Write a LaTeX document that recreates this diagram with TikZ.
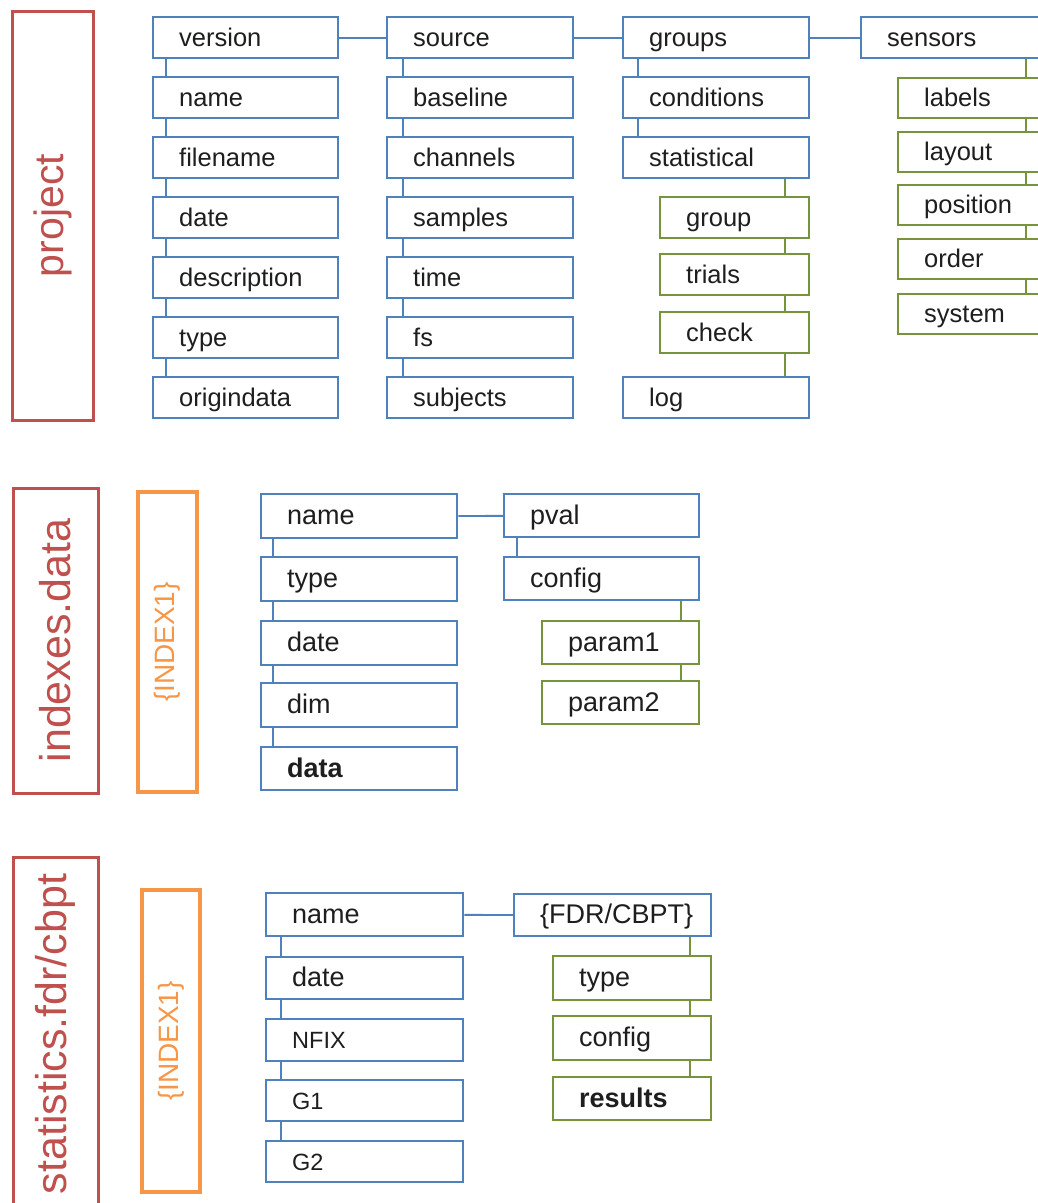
\documentclass[tikz,border=0pt]{standalone}
\usepackage{fontspec}
\setmainfont{Liberation Sans}
\usetikzlibrary{positioning}
\definecolor{boxblue}{RGB}{79,129,189}
\definecolor{boxgreen}{RGB}{119,147,60}
\definecolor{secred}{RGB}{192,80,77}
\definecolor{idxorange}{RGB}{247,150,70}
\definecolor{fieldtext}{RGB}{30,30,30}
\begin{document}
\begin{tikzpicture}[x=1pt,y=-1pt,
  topf/.style={font=\fontsize{25.5}{28}\selectfont,text height=21pt,text depth=4pt},
  subf/.style={font=\fontsize{27}{30}\selectfont,text height=22pt,text depth=4.5pt},
  smallf/.style={font=\fontsize{23.5}{26}\selectfont,text height=20.5pt,text depth=3.5pt},
  fieldbox/.style={draw=boxblue,line width=2.4pt,anchor=north west,inner xsep=26pt,inner ysep=0pt,
    align=left,text=fieldtext,minimum height=41pt,topf},
  leafbox/.style={fieldbox,draw=boxgreen},
  link/.style={draw=boxblue,line width=1.9pt},
  leaflink/.style={draw=boxgreen,line width=1.9pt},
  secbox/.style={draw=secred,line width=3pt,text=secred,rotate=90,inner sep=0pt},
  idxbox/.style={draw=idxorange,line width=3.4pt,text=idxorange,rotate=90,inner sep=0pt,font=\fontsize{28}{30}\selectfont}]
\clip (0,0) rectangle (1038,1203);
\fill[white] (0,0) rectangle (1038,1203);

% project
\node[secbox,minimum width=409pt,minimum height=81pt,font=\fontsize{41}{45}\selectfont] (project) at (53,215.5) {project};
\foreach \nm/\txt [count=\i from 0] in {version/version,pname/name,filename/filename,pdate/date,description/description,ptype/type,origindata/origindata}
  \node[fieldbox,text width=133pt] (\nm) at (152,16+60*\i) {\txt};
\foreach \nm/\txt [count=\i from 0] in {source/source,baseline/baseline,channels/channels,samples/samples,time/time,fs/fs,subjects/subjects}
  \node[fieldbox,text width=134pt] (\nm) at (386,16+60*\i) {\txt};
\foreach \nm/\txt [count=\i from 0] in {groups/groups,conditions/conditions,statistical/statistical}
  \node[fieldbox,text width=134pt] (\nm) at (622,16+60*\i) {\txt};
\node[leafbox,text width=97pt] (group) at (659,196) {group};
\node[leafbox,text width=97pt] (trials) at (659,253) {trials};
\node[leafbox,text width=97pt] (check) at (659,311) {check};
\node[fieldbox,text width=134pt] (log) at (622,376) {log};
\node[fieldbox,text width=134pt] (sensors) at (860,16) {sensors};
\foreach \nm/\yy in {labels/77,layout/131,position/184,order/238,system/293}
  \node[leafbox,text width=97pt,minimum height=40pt] (\nm) at (897,\yy) {\nm};

\foreach \a/\b in {version/pname,pname/filename,filename/pdate,pdate/description,description/ptype,ptype/origindata}
  \draw[link] ([xshift=14pt]\a.south west) -- ([xshift=14pt]\b.north west);
\foreach \a/\b in {source/baseline,baseline/channels,channels/samples,samples/time,time/fs,fs/subjects}
  \draw[link] ([xshift=17pt]\a.south west) -- ([xshift=17pt]\b.north west);
\foreach \a/\b in {groups/conditions,conditions/statistical}
  \draw[link] ([xshift=16pt]\a.south west) -- ([xshift=16pt]\b.north west);
\foreach \a/\b in {statistical/group,group/trials,trials/check,check/log}
  \draw[leaflink] ([xshift=-25pt]\a.south east) -- ([xshift=-25pt]\b.north east);
\foreach \a/\b in {sensors/labels,labels/layout,layout/position,position/order,order/system}
  \draw[leaflink] ([xshift=-22pt]\a.south east) -- ([xshift=-22pt]\b.north east);
\draw[link] (version) -- (source);
\draw[link] (source) -- (groups);
\draw[link] (groups) -- (sensors);

% indexes.data
\node[secbox,minimum width=305pt,minimum height=85pt,font=\fontsize{43}{47}\selectfont] (indexes) at (55.5,640.5) {indexes.data};
\node[idxbox,minimum width=300pt,minimum height=59pt] (idxone) at (167.5,642) {\{INDEX1\}};
\foreach \nm/\txt/\yy in {iname/name/493,itype/type/556,idate/date/620,idim/dim/682}
  \node[fieldbox,text width=144pt,minimum height=44pt,subf] (\nm) at (260,\yy) {\txt};
\node[fieldbox,text width=144pt,minimum height=43pt,subf] (idata) at (260,746) {\bfseries data};
\node[fieldbox,text width=143pt,minimum height=43pt,subf] (pval) at (503,493) {pval};
\node[fieldbox,text width=143pt,minimum height=43pt,subf] (iconfig) at (503,556) {config};
\node[leafbox,text width=105pt,minimum height=43pt,subf] (param1) at (541,620) {param1};
\node[leafbox,text width=105pt,minimum height=43pt,subf] (param2) at (541,680) {param2};
\foreach \a/\b in {iname/itype,itype/idate,idate/idim,idim/idata}
  \draw[link] ([xshift=13pt]\a.south west) -- ([xshift=13pt]\b.north west);
\draw[link] ([xshift=14pt]pval.south west) -- ([xshift=14pt]iconfig.north west);
\foreach \a/\b in {iconfig/param1,param1/param2}
  \draw[leaflink] ([xshift=-19pt]\a.south east) -- ([xshift=-19pt]\b.north east);
\draw[link] (iname) -- (pval);

% statistics.fdr/cbpt
\node[secbox,minimum width=354pt,minimum height=85pt,font=\fontsize{43}{47}\selectfont] (statistics) at (55.5,1034) {statistics.fdr/cbpt};
\node[idxbox,minimum width=302pt,minimum height=58pt] (idxtwo) at (171,1041) {\{INDEX1\}};
\node[fieldbox,text width=145pt,minimum height=43pt,subf] (sname) at (265,892) {name};
\node[fieldbox,text width=145pt,minimum height=42pt,subf] (sdate) at (265,956) {date};
\node[fieldbox,text width=145pt,minimum height=42pt,smallf] (nfix) at (265,1018) {NFIX};
\node[fieldbox,text width=145pt,minimum height=41pt,smallf] (g1) at (265,1079) {G1};
\node[fieldbox,text width=145pt,minimum height=41pt,smallf] (g2) at (265,1140) {G2};
\node[fieldbox,text width=145pt,minimum height=42pt,subf] (fdrcbpt) at (513,893) {\{FDR/CBPT\}};
\node[leafbox,text width=106pt,minimum height=44pt,subf] (stype) at (552,955) {type};
\node[leafbox,text width=106pt,minimum height=44pt,subf] (sconfig) at (552,1015) {config};
\node[leafbox,text width=106pt,minimum height=43pt,subf] (results) at (552,1076) {\bfseries results};
\foreach \a/\b in {sname/sdate,sdate/nfix,nfix/g1,g1/g2}
  \draw[link] ([xshift=16pt]\a.south west) -- ([xshift=16pt]\b.north west);
\foreach \a/\b in {fdrcbpt/stype,stype/sconfig,sconfig/results}
  \draw[leaflink] ([xshift=-22pt]\a.south east) -- ([xshift=-22pt]\b.north east);
\draw[link] (sname) -- (fdrcbpt);
\end{tikzpicture}
\end{document}
